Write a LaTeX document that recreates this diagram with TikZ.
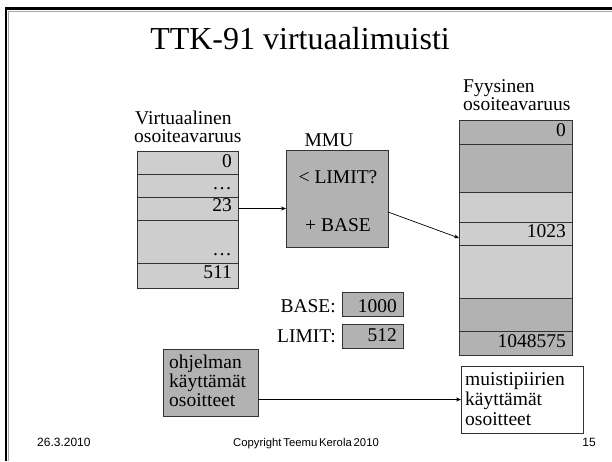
\documentclass[tikz,border=0pt]{standalone}
\usepackage{fontspec}
\setmainfont{Liberation Serif}
\newfontfamily\footfont{Liberation Sans}
\usetikzlibrary{arrows.meta}
\definecolor{lightg}{RGB}{206,206,206}
\definecolor{darkg}{RGB}{178,178,178}
\begin{document}
\begin{tikzpicture}[x=1pt,y=-1pt,
  cell/.style={draw=black!80, line width=0.6pt, inner sep=0pt, outer sep=0pt, anchor=north west},
  lt/.style={cell, fill=lightg},
  dk/.style={cell, fill=darkg},
  wt/.style={cell, fill=white},
  txt/.style={inner sep=0pt, font=\fontsize{19.5}{20}\selectfont},
  lbl/.style={txt, anchor=base east},
  lft/.style={txt, anchor=base west},
  ctr/.style={txt, anchor=base},
  foot/.style={inner sep=0pt, font=\footfont\fontsize{12}{14}\selectfont},
  arr/.style={-{Stealth[length=5pt,width=4pt]}, line width=0.7pt}]
\useasboundingbox (0,0) rectangle (612,461);
\fill[white] (0,0) rectangle (612,461);
% slide frame
\draw[black!35, line width=1pt] (8.6,461) -- (8.6,11) -- (612,11);
\draw[black, line width=2.5pt] (6.2,461) -- (6.2,8.6) -- (612,8.6);
% title
\node[inner sep=0pt, anchor=base, font=\fontsize{32}{34}\selectfont] (title) at (300,49) {TTK-91 virtuaalimuisti};
% virtual address space
\node[lft, text depth=0pt] (vh1) at (135,124) {Virtuaalinen};
\node[lft] (vh2) at (134,142) {osoiteavaruus};
\node[lt, minimum width=101pt, minimum height=23pt] (v0) at (137,151) {};
\node[lt, minimum width=101pt, minimum height=23pt] (v1) at (137,174) {};
\node[lt, minimum width=101pt, minimum height=23pt] (v23) at (137,197) {};
\node[lt, minimum width=101pt, minimum height=43pt] (v3) at (137,220) {};
\node[lt, minimum width=101pt, minimum height=25pt] (v511) at (137,263) {};
\node[lbl] (tv0) at (232,167) {0};
\node[lbl] (tv1) at (232,189) {…};
\node[lbl] (tv23) at (232,211) {23};
\node[lbl] (tv3) at (232,255) {…};
\node[lbl] (tv511) at (232,278) {511};
% MMU
\node[ctr] (mmulbl) at (329,146) {MMU};
\node[dk, minimum width=102pt, minimum height=97pt] (mmu) at (286,150) {};
\node[ctr] (lim) at (338,183) {< LIMIT?};
\node[ctr] (bas) at (338,231) {+ BASE};
% physical address space
\node[lft] (ph1) at (463,92) {Fyysinen};
\node[lft] (ph2) at (463,110) {osoiteavaruus};
\node[dk, minimum width=113pt, minimum height=24pt] (p0) at (459,120) {};
\node[dk, minimum width=113pt, minimum height=48pt] (p1) at (459,144) {};
\node[lt, minimum width=113pt, minimum height=30pt] (p2) at (459,192) {};
\node[lt, minimum width=113pt, minimum height=23pt] (p1023) at (459,222) {};
\node[lt, minimum width=113pt, minimum height=53pt] (p3) at (459,245) {};
\node[dk, minimum width=113pt, minimum height=33pt] (p4) at (459,298) {};
\node[dk, minimum width=113pt, minimum height=24pt] (p5) at (459,331) {};
\node[lbl] (tp0) at (566,136) {0};
\node[lbl] (tp1023) at (566,237) {1023};
\node[lbl] (tp5) at (566,347) {1048575};
% registers
\node[lbl] (basel) at (336,312) {BASE:};
\node[dk, minimum width=61pt, minimum height=24pt] (basebox) at (342,292) {};
\node[lbl] (baseval) at (397,312) {1000};
\node[lbl] (liml) at (336,342) {LIMIT:};
\node[dk, minimum width=61pt, minimum height=24pt] (limbox) at (342,324) {};
\node[lbl] (limval) at (397,341) {512};
% unused addresses
\node[dk, minimum width=95pt, minimum height=67pt] (ohj) at (163,349) {};
\node[lft] (o1) at (169,368) {ohjelman};
\node[lft] (o2) at (169,387) {käyttämät};
\node[lft] (o3) at (169,406) {osoitteet};
\node[wt, minimum width=122pt, minimum height=67pt] (mus) at (461,366) {};
\node[lft] (m1) at (465,385) {muistipiirien};
\node[lft] (m2) at (465,405) {käyttämät};
\node[lft] (m3) at (465,425) {osoitteet};
% arrows
\draw[arr] (v23.east) -- (v23.east -| mmu.west);
\draw[arr] ([yshift=-13.5pt]mmu.east) -- ([yshift=-4.5pt]p1023.west);
\draw[arr] (ohj.east |- mus.west) -- (mus.west);
% footer
\node[foot, anchor=base west] (date) at (37,446) {26.3.2010};
\node[foot, anchor=base, font=\footfont\fontsize{11.3}{14}\selectfont] (copy) at (306,446) {Copyright\,Teemu\,Kerola\,2010};
\node[foot, anchor=base east] (page) at (596,446) {15};
\end{tikzpicture}
\end{document}
